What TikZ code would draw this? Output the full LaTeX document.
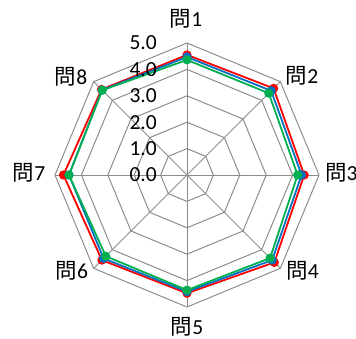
\documentclass[tikz,border=0pt]{standalone}
\usepackage{fontspec}
\setmainfont{Carlito}
\newfontfamily\cjk{Noto Sans CJK JP}
\definecolor{gridc}{RGB}{140,140,140}
\definecolor{sred}{RGB}{255,0,0}
\definecolor{sblue}{RGB}{0,112,192}
\definecolor{sgreen}{RGB}{0,176,80}
\begin{document}
\begin{tikzpicture}[x=1pt,y=1pt,
  gridline/.style={draw=gridc, line width=1pt},
  lbl/.style={font=\fontsize{21.5}{24}\selectfont, inner sep=0pt},
  series/.style={line width=1.8pt, line join=round}]
\useasboundingbox (0,0) rectangle (356,338);
\clip (0,0) rectangle (356,338);
\begin{scope}[shift={(187pt,163pt)}, x=26.4pt, y=26.4pt]
  \coordinate (O) at (0,0);
  % rings
  \foreach \r in {1,...,5} {
    \draw[gridline] (90:\r) -- (45:\r) -- (0:\r) -- (-45:\r) -- (-90:\r) -- (-135:\r) -- (180:\r) -- (135:\r) -- cycle;
  }
  % spokes
  \foreach \a in {0,45,...,315} {
    \coordinate (s\a) at (\a:5);
    \draw[gridline] (O) -- (s\a);
  }
  % red series
  \draw[series, sred] (90:4.55) -- (45:4.64) -- (0:4.44) -- (-45:4.68) -- (-90:4.48) -- (-135:4.56) -- (180:4.68) -- (135:4.58) -- cycle;
  \foreach \a/\v in {90/4.55,45/4.64,0/4.44,-45/4.68,-90/4.48,-135/4.56,180/4.68,135/4.58}
    \fill[sred] (\a:\v) circle (4.6pt);
  % blue series
  \draw[series, sblue] (90:4.47) -- (45:4.51) -- (0:4.34) -- (-45:4.56) -- (-90:4.42) -- (-135:4.47) -- (180:4.47) -- (135:4.55) -- cycle;
  \foreach \a/\v in {90/4.47,45/4.51,0/4.34,-45/4.56,-90/4.42,-135/4.47,180/4.47,135/4.55}
    \fill[sblue] (\a:\v) circle (4.6pt);
  % green series
  \draw[series, sgreen] (90:4.36) -- (45:4.38) -- (0:4.19) -- (-45:4.45) -- (-90:4.36) -- (-135:4.35) -- (180:4.47) -- (135:4.54) -- cycle;
  \foreach \a/\v in {90/4.36,45/4.38,0/4.19,-45/4.45,-90/4.36,-135/4.35,180/4.47,135/4.54}
    \fill[sgreen] (\a:\v) circle (4.6pt);
\end{scope}
% axis value labels
\foreach \k in {0,...,5} {
  \node[lbl, anchor=east] (t\k) at (157, {163+26.4*\k}) {\k.0};
}
% category labels
\node[lbl] (q1) at (186,319) {{\cjk 問}1};
\node[lbl] (q2) at (302,262) {{\cjk 問}2};
\node[lbl, anchor=west] (q3) at (325,165) {{\cjk 問}3};
\node[lbl] (q4) at (302.5,67) {{\cjk 問}4};
\node[lbl] (q5) at (187,11.5) {{\cjk 問}5};
\node[lbl] (q6) at (71.7,67) {{\cjk 問}6};
\node[lbl] (q7) at (29,165) {{\cjk 問}7};
\node[lbl] (q8) at (71,261.3) {{\cjk 問}8};
\end{tikzpicture}
\end{document}
